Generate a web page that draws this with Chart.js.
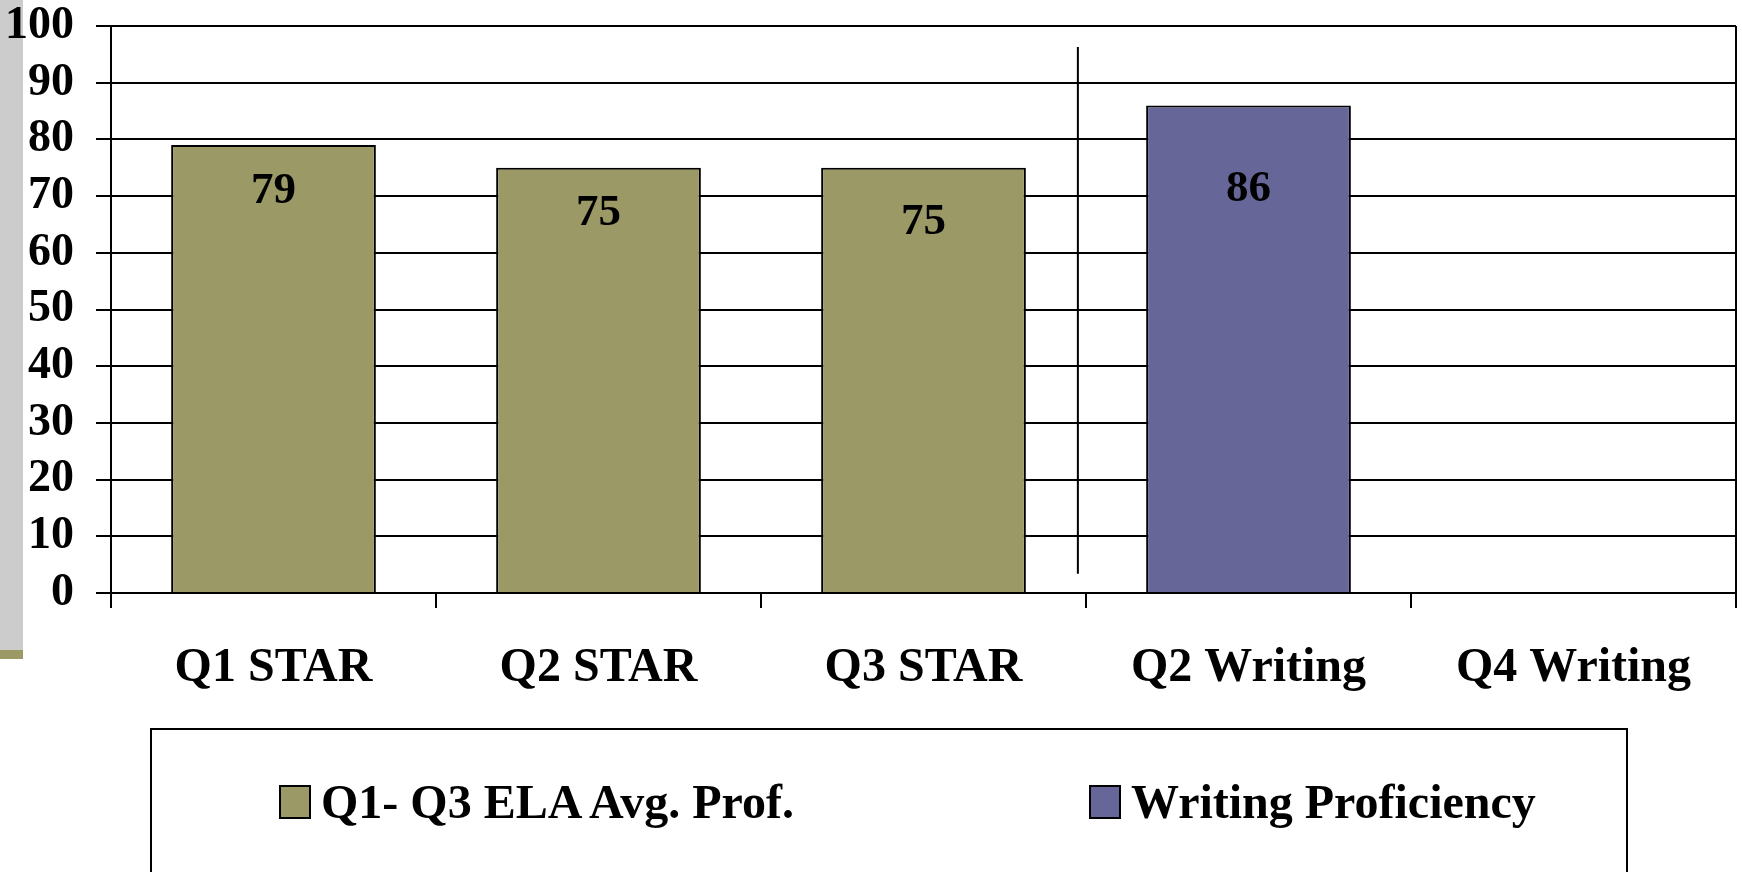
<!DOCTYPE html>
<html>
<head>
<meta charset="utf-8">
<script src="https://cdn.jsdelivr.net/npm/chart.js@4.4.1/dist/chart.umd.min.js"></script>
<style>
    html, body { margin: 0; padding: 0; background: #fff; overflow: hidden; }
    #wrap { position: relative; width: 1742px; height: 872px; }
    #side { position: absolute; left: 0; top: 0; width: 23px; height: 650px; background: #cccccc; }
    #sideFoot { position: absolute; left: 0; top: 650px; width: 23px; height: 9px; background: #9b9966; }
    canvas { position: absolute; left: 0; top: 0; }
    #legend {
        position: absolute; left: 150px; top: 728px; width: 1478px; height: 200px;
        border: 2px solid #000; box-sizing: border-box;
        font-family: "Liberation Serif", serif; font-weight: bold; font-size: 48px;
    }
    .item { position: absolute; top: 44px; display: flex; align-items: center; }
    .swatch { width: 28px; height: 30px; border: 2px solid #000; margin-right: 10px; }
</style>
</head>
<body>
<div id="wrap">
    <div id="side"></div>
    <div id="sideFoot"></div>
    <canvas id="chart" width="1742" height="872"></canvas>
    <div id="legend"></div>
</div>
<script>
// --- Data ---
const categories = ['Q1 STAR', 'Q2 STAR', 'Q3 STAR', 'Q2 Writing', 'Q4 Writing'];
const elaValues = [79, 75, 75, null, null];
const writingValues = [null, null, null, 86, null];
const seriesNames = ['Q1- Q3 ELA Avg. Prof.', 'Writing Proficiency'];
const yTicks = [0, 10, 20, 30, 40, 50, 60, 70, 80, 90, 100];

// label drop below bar top (px), per category
const labelDrop = [46, 46, 55, 84, 0];
// separator between STAR and Writing groups (category units / value units)
const separatorAt = 2.475;
const separatorRange = [3.4, 96.3];

const olive = '#9b9966';
const purple = '#666699';
const serif = '"Liberation Serif", "Times New Roman", serif';

const valueLabels = {
    id: 'valueLabels',
    afterDatasetsDraw(chart) {
        const ctx = chart.ctx;
        ctx.save();
        ctx.font = 'bold 45px ' + serif;
        ctx.fillStyle = '#000';
        ctx.textAlign = 'center';
        ctx.textBaseline = 'middle';
        chart.data.datasets.forEach((ds, di) => {
            chart.getDatasetMeta(di).data.forEach((bar, i) => {
                if (ds.data[i] == null) return;
                ctx.fillText(ds.data[i], bar.x, bar.y + labelDrop[i]);
            });
        });
        ctx.restore();
    }
};

const frameLines = {
    id: 'frameLines',
    afterDraw(chart) {
        const { ctx, chartArea, scales } = chart;
        ctx.save();
        ctx.strokeStyle = '#000';
        ctx.lineWidth = 2;
        // right frame
        ctx.beginPath();
        ctx.moveTo(chartArea.right, chartArea.top);
        ctx.lineTo(chartArea.right, chartArea.bottom);
        ctx.stroke();
        // group separator
        const sx = scales.x.getPixelForValue(separatorAt);
        ctx.beginPath();
        ctx.moveTo(sx, scales.y.getPixelForValue(separatorRange[1]));
        ctx.lineTo(sx, scales.y.getPixelForValue(separatorRange[0]));
        ctx.stroke();
        ctx.restore();
    }
};

const chart = new Chart(document.getElementById('chart').getContext('2d'), {
    type: 'bar',
    data: {
        labels: categories,
        datasets: [
            { label: seriesNames[0], data: elaValues, backgroundColor: olive, borderColor: '#000', borderWidth: 2 },
            { label: seriesNames[1], data: writingValues, backgroundColor: purple, borderColor: '#000', borderWidth: 2 }
        ]
    },
    options: {
        responsive: false,
        animation: false,
        categoryPercentage: 0.63,
        barPercentage: 1,
        layout: { padding: { left: 0, right: 6, top: 26, bottom: 0 } },
        plugins: {
            legend: { display: false },
            tooltip: { enabled: false }
        },
        scales: {
            x: {
                stacked: true,
                afterFit(scale) { scale.height = 279; },
                grid: { drawOnChartArea: false, tickLength: 15, color: '#000', lineWidth: 2 },
                border: { color: '#000', width: 2 },
                ticks: { color: '#000', padding: 32, font: { family: serif, size: 48, weight: 'bold' } }
            },
            y: {
                stacked: true,
                min: 0,
                max: 100,
                afterBuildTicks(scale) { scale.ticks = yTicks.map(v => ({ value: v })); },
                afterFit(scale) {
                    scale.width = 111;
                    scale.paddingTop = 0;
                    scale.paddingBottom = 0;
                },
                grid: { color: '#000', lineWidth: 2, tickLength: 15 },
                border: { color: '#000', width: 2 },
                ticks: { color: '#000', padding: 22, autoSkip: false, font: { family: serif, size: 46, weight: 'bold' } }
            }
        }
    },
    plugins: [valueLabels, frameLines]
});

// --- HTML legend built from the datasets ---
const legendEl = document.getElementById('legend');
const itemLefts = [127, 937];
chart.data.datasets.forEach((ds, i) => {
    const item = document.createElement('div');
    item.className = 'item';
    item.style.left = itemLefts[i] + 'px';
    item.innerHTML = `<span class="swatch" style="background:${ds.backgroundColor}"></span><span>${ds.label}</span>`;
    legendEl.appendChild(item);
});
</script>
</body>
</html>
